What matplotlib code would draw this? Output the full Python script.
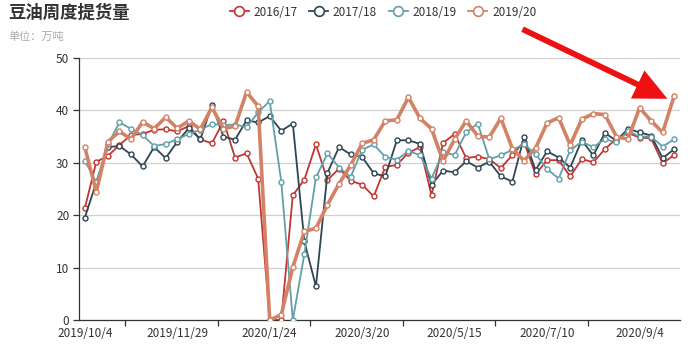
import matplotlib
matplotlib.use("Agg")
import matplotlib.pyplot as plt
import pandas as pd
from matplotlib.lines import Line2D

plt.rcParams['font.family'] = ['Noto Sans CJK SC', 'DejaVu Sans']

dates = [d.strftime('%Y/%-m/%-d') for d in pd.date_range('2019-10-04', periods=52, freq='7D')]

s1617 = [21.3, 30.2, 31.3, 33.4, 35.3, 35.5, 36.3, 36.4, 36.0, 37.0, 34.5, 33.7, 38.0, 31.0, 31.8, 27.0,
         0.0, 0.0, 23.8, 26.8, 33.5, 26.7, 28.9, 26.6, 25.8, 23.6, 29.2, 29.6, 31.9, 33.0, 23.8, 33.8,
         35.5, 30.9, 31.2, 30.7, 29.0, 31.5, 34.0, 27.8, 30.5, 30.5, 27.4, 30.7, 30.1, 32.6, 34.6, 35.7,
         34.8, 34.7, 29.9, 31.5]
s1718 = [19.5, 26.3, 33.0, 33.2, 31.6, 29.3, 33.0, 30.9, 34.0, 36.6, 34.5, 41.0, 35.0, 34.4, 38.1, 37.7,
         38.9, 36.1, 37.5, 15.0, 6.4, 28.1, 33.0, 31.6, 31.1, 28.0, 27.4, 34.3, 34.3, 33.6, 25.8, 28.5,
         28.2, 30.3, 29.1, 30.2, 27.4, 26.4, 34.9, 28.6, 32.2, 31.0, 29.1, 34.3, 31.4, 35.7, 34.2, 36.5,
         35.8, 35.2, 30.9, 32.6]
s1819 = [30.4, 26.3, 33.5, 37.7, 36.5, 35.3, 33.2, 33.6, 34.5, 35.5, 36.3, 37.4, 37.2, 37.3, 36.8, 39.6,
         41.8, 26.4, 0.0, 12.6, 27.2, 31.8, 29.1, 27.3, 32.5, 33.5, 31.1, 30.6, 32.2, 31.5, 27.0, 32.0,
         31.5, 35.8, 37.5, 30.7, 31.4, 32.5, 33.5, 31.7, 28.8, 27.0, 32.4, 34.0, 33.0, 34.5, 33.9, 36.1,
         35.0, 35.0, 33.1, 34.5]
s1920 = [33.0, 24.4, 34.0, 36.0, 34.5, 37.8, 36.5, 38.7, 36.6, 38.0, 36.4, 40.6, 36.5, 37.0, 43.5, 40.8,
         0.0, 1.0, 10.1, 16.9, 17.5, 22.0, 26.0, 29.5, 33.7, 34.4, 38.0, 38.2, 42.5, 38.5, 36.5, 30.3,
         34.5, 38.0, 35.1, 34.9, 38.5, 32.7, 30.4, 32.8, 37.6, 38.6, 33.4, 38.3, 39.4, 39.2, 35.0, 34.5,
         40.5, 38.0, 35.8, 42.8]

series_names = ['2016/17', '2017/18', '2018/19', '2019/20']
series_vals = [s1617, s1718, s1819, s1920]
colors = ['#c23531', '#2f4554', '#61a0a8', '#d48265']
widths = [1.3, 1.3, 1.3, 2.6]

yticks = [0, 10, 20, 30, 40, 50]
label_every = 8

fig = plt.figure(figsize=(6.88, 3.46), dpi=100)
ax = fig.add_axes([79/688, 1-320/346, (680-79)/688, (320-58)/346])

x = list(range(len(dates)))
for name, vals, c, lw in zip(series_names, series_vals, colors, widths):
    ax.plot(x, vals, color=c, lw=lw, marker='o', markersize=3.6,
            markerfacecolor='white', markeredgecolor=c, markeredgewidth=1.0, zorder=3)

ax.set_xlim(-0.5, len(dates) - 0.5)
ax.set_ylim(0, 50)
ax.set_yticks(yticks)
ax.set_yticklabels([str(v) for v in yticks], fontsize=8.5, color='#333333')
ax.yaxis.grid(True, color='#d0d0d0', lw=0.9)
ax.set_axisbelow(True)

lab_idx = list(range(0, len(dates), label_every))
ax.set_xticks(lab_idx)
ax.set_xticklabels([dates[i] for i in lab_idx], fontsize=8.5, color='#333333')
ax.tick_params(axis='x', length=0, pad=5)
ax.set_xticks([i + 4 - 0.5 for i in lab_idx if i + 4 < len(dates)], minor=True)
ax.tick_params(axis='x', which='minor', length=4, color='#333333', width=0.9)
ax.tick_params(axis='y', length=4, color='#333333', width=0.9, pad=3)

for sp in ['top', 'right']:
    ax.spines[sp].set_visible(False)
for sp in ['left', 'bottom']:
    ax.spines[sp].set_color('#333333')
    ax.spines[sp].set_linewidth(0.9)

fig.text(8/688, 1-13/346, '豆油周度提货量', fontsize=12.5, fontweight='bold', color='#333333',
         va='center', ha='left')
fig.text(8/688, 1-37/346, '单位：万吨', fontsize=8, color='#aaaaaa', va='center', ha='left')

handles = [Line2D([0], [0], color=c, lw=1.3, marker='o', markersize=7,
                  markerfacecolor='white', markeredgecolor=c, markeredgewidth=1.2)
           for c in colors]
leg = fig.legend(handles, series_names, loc='center', bbox_to_anchor=(383/688, 1-12/346),
                 ncol=4, frameon=False, fontsize=8.5, handlelength=1.6, handletextpad=0.4,
                 columnspacing=1.0)
for t in leg.get_texts():
    t.set_color('#333333')

ax.annotate('', xy=(670/688, 1-100/346), xycoords='figure fraction',
            xytext=(520/688, 1-28/346), textcoords='figure fraction',
            arrowprops=dict(arrowstyle='simple,head_length=1.7,head_width=1.6,tail_width=0.3',
                            color='#ee1111', lw=0, mutation_scale=14),
            annotation_clip=False)

fig.savefig('out.png', dpi=100)
